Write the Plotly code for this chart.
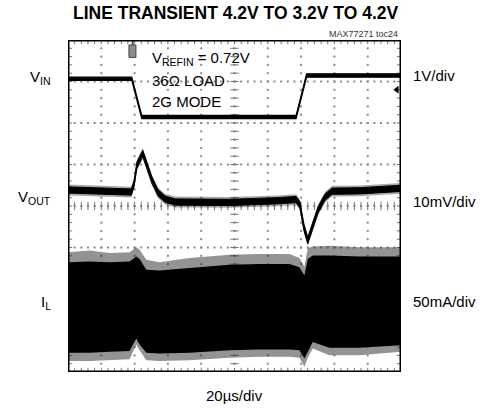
import plotly.graph_objects as go

# ---- scope settings -------------------------------------------------------
T_DIV = 20.0        # µs per division
N_XDIV = 10
N_YDIV = 8
VIN_SCALE = 1.0     # V/div
VOUT_SCALE = 10.0   # mV/div
IL_SCALE = 50.0     # mA/div

# screen division where each channel's reference level sits
VIN_POS = 2.945
VOUT_POS = 4.386
IL_POS = 1.205

TRIG_T = 40.0       # trigger position, µs
TRIG_LEVEL = 6.8    # trigger level marker, div

# ---- waveforms ------------------------------------------------------------
# VIN (V)
vin_t = [0, 38.3, 44.3, 137.0, 143.3, 200]
vin_v = [4.12, 4.12, 3.20, 3.20, 4.20, 4.20]

# VOUT, AC deviation around 0.72V (mV)
vout_t = [0, 19, 38, 39.6, 41.4, 44.9, 46.8, 50.4, 54.1, 58.3, 64.3, 97,
          125.5, 137, 139.3, 141.7, 144, 146, 150.2, 154.4, 158.6, 175.4, 200]
vout_mv = [0.0, -0.2, -0.5, 1.4, 6.0, 8.8, 6.5, 2.4, -0.7, -2.2, -2.9, -3.0,
           -2.6, -2.3, -3.6, -9.0, -12.2, -9.8, -4.8, -1.7, -0.3, -0.2, 0.4]

# IL switching ripple envelope (mA)
il_t = [0, 13, 25, 37, 41, 43, 47, 55, 73, 97, 115, 133, 139, 142, 144, 147,
        157, 175, 200]
il_hi_peak = [84, 86, 83, 84, 90, 87, 75, 72, 77, 81, 82, 82, 77, 67, 89, 91,
              92, 90, 90]
il_hi_core = [72, 73, 72, 73, 79, 76, 63, 62, 65, 69, 70, 70, 66, 56, 76, 80,
              80, 79, 79]
il_lo_core = [-37, -37, -36, -35, -20, -27, -37, -38, -37, -34, -33, -33, -34,
              -44, -35, -24, -31, -31, -28]
il_lo_peak = [-47, -47, -46, -45, -27, -34, -46, -47, -46, -43, -42, -42, -43,
              -54, -43, -32, -40, -40, -36]

# ---- page geometry (px) ----------------------------------------------------
W, H = 482, 408
ML, MR, MT, MB = 68, 81, 40, 36
PW, PH = W - ML - MR, H - MT - MB
FONT = "Liberation Sans, Arial, sans-serif"


def px(x):
    return (x - ML) / PW


def py(y):
    return (H - MB - y) / PH


def to_div(vals, pos, scale):
    return [pos + v / scale for v in vals]


def band(t, hi, lo):
    return list(t) + list(t[::-1]), list(hi) + list(lo[::-1])


fig = go.Figure()

# graticule dots
xmax = T_DIV * N_XDIV
gx, gy = [], []
for k in range(1, N_XDIV):
    for j in range(1, N_YDIV * 5):
        gx.append(k * T_DIV)
        gy.append(j * 0.2)
for k in range(1, N_YDIV):
    for i in range(1, N_XDIV * 5):
        gx.append(i * T_DIV / 5)
        gy.append(k)
fig.add_trace(go.Scatter(x=gx, y=gy, mode="markers", hoverinfo="skip",
                         marker=dict(symbol="square", size=2, color="#8a8a8a",
                                     line=dict(width=0))))

# minor ticks on the border and on the centre cross
tx_ns, ty_ns, tx_ew, ty_ew = [], [], [], []
for i in range(1, N_XDIV * 5):
    for yy in (0, N_YDIV / 2, N_YDIV):
        tx_ns.append(i * T_DIV / 5)
        ty_ns.append(yy)
for j in range(1, N_YDIV * 5):
    for xx in (0, xmax / 2, xmax):
        tx_ew.append(xx)
        ty_ew.append(j * 0.2)
fig.add_trace(go.Scatter(x=tx_ns, y=ty_ns, mode="markers", hoverinfo="skip",
                         marker=dict(symbol="line-ns", size=6,
                                     line=dict(width=1, color="#777"))))
fig.add_trace(go.Scatter(x=tx_ew, y=ty_ew, mode="markers", hoverinfo="skip",
                         marker=dict(symbol="line-ew", size=6,
                                     line=dict(width=1, color="#777"))))

# IL band: noisy fringe then solid core
bx, by = band(il_t, to_div(il_hi_peak, IL_POS, IL_SCALE),
              to_div(il_lo_peak, IL_POS, IL_SCALE))
fig.add_trace(go.Scatter(x=bx, y=by, fill="toself", mode="lines",
                         fillcolor="rgba(40,40,40,0.5)", line=dict(width=0),
                         hoverinfo="skip"))
bx, by = band(il_t, to_div(il_hi_core, IL_POS, IL_SCALE),
              to_div(il_lo_core, IL_POS, IL_SCALE))
fig.add_trace(go.Scatter(x=bx, y=by, fill="toself", mode="lines",
                         fillcolor="black", line=dict(width=0),
                         hoverinfo="skip"))

# VOUT trace drawn as a noise band
vout_hi_f = [v + 1.3 for v in vout_mv]
vout_lo_f = [v - 1.3 for v in vout_mv]
vout_hi = [v + 0.75 for v in vout_mv]
vout_lo = [v - 0.75 for v in vout_mv]
bx, by = band(vout_t, to_div(vout_hi_f, VOUT_POS, VOUT_SCALE),
              to_div(vout_lo_f, VOUT_POS, VOUT_SCALE))
fig.add_trace(go.Scatter(x=bx, y=by, fill="toself", mode="lines",
                         fillcolor="rgba(40,40,40,0.4)", line=dict(width=0),
                         hoverinfo="skip"))
bx, by = band(vout_t, to_div(vout_hi, VOUT_POS, VOUT_SCALE),
              to_div(vout_lo, VOUT_POS, VOUT_SCALE))
fig.add_trace(go.Scatter(x=bx, y=by, fill="toself", mode="lines",
                         fillcolor="black", line=dict(width=1, color="black"),
                         hoverinfo="skip"))

# VIN trace
vin_hi = [v + 0.04 for v in vin_v]
vin_lo = [v - 0.04 for v in vin_v]
bx, by = band(vin_t, to_div(vin_hi, VIN_POS, VIN_SCALE),
              to_div(vin_lo, VIN_POS, VIN_SCALE))
fig.add_trace(go.Scatter(x=bx, y=by, fill="toself", mode="lines",
                         fillcolor="black", line=dict(width=1.2, color="black"),
                         hoverinfo="skip"))

# trigger level arrow
fig.add_trace(go.Scatter(x=[xmax - 2.5], y=[TRIG_LEVEL], mode="markers",
                         hoverinfo="skip",
                         marker=dict(symbol="triangle-left", size=7,
                                     color="black")))

# trigger position marker
fig.add_shape(type="line", x0=TRIG_T - 1.2, x1=TRIG_T - 1.2, y0=7.85, y1=8,
              line=dict(color="#555", width=2))
fig.add_shape(type="rect", x0=TRIG_T - 3.4, x1=TRIG_T + 0.8, y0=7.58, y1=7.88,
              fillcolor="#8c8c8c", line=dict(color="#444", width=1))

# screen border
fig.add_shape(type="rect", x0=0, x1=xmax, y0=0, y1=N_YDIV,
              line=dict(color="black", width=3))

ann = []


def label(text, x, y, size=15, anchor="left", color="black", bold=False):
    if bold:
        text = "<b>" + text + "</b>"
    ann.append(dict(text=text, x=px(x), y=py(y), xref="paper", yref="paper",
                    xanchor=anchor, yanchor="middle", showarrow=False,
                    font=dict(family=FONT, size=size, color=color)))


label("LINE TRANSIENT 4.2V TO 3.2V TO 4.2V", 235, 13.5, size=17.5,
      anchor="center", bold=True)
label("MAX77271 toc24", 400, 34, size=9, anchor="right", color="#333")
label("V<sub>REFIN</sub> = 0.72V", 150, 58)
label("36Ω LOAD", 150, 80)
label("2G MODE", 150, 101.5)
label("V<sub>IN</sub>", 53, 77, anchor="right")
label("V<sub>OUT</sub>", 53, 197, anchor="right")
label("I<sub>L</sub>", 53, 302, anchor="right")
label("1V/div", 411, 75)
label("10mV/div", 411, 201)
label("50mA/div", 411, 301)
label("20µs/div", 234.5, 395, anchor="center")

fig.update_layout(
    width=W, height=H, autosize=False,
    margin=dict(l=ML, r=MR, t=MT, b=MB, pad=0),
    paper_bgcolor="white", plot_bgcolor="white",
    showlegend=False, annotations=ann,
    xaxis=dict(range=[0, xmax], visible=False, fixedrange=True),
    yaxis=dict(range=[0, N_YDIV], visible=False, fixedrange=True),
)

fig.write_html("out.html")
